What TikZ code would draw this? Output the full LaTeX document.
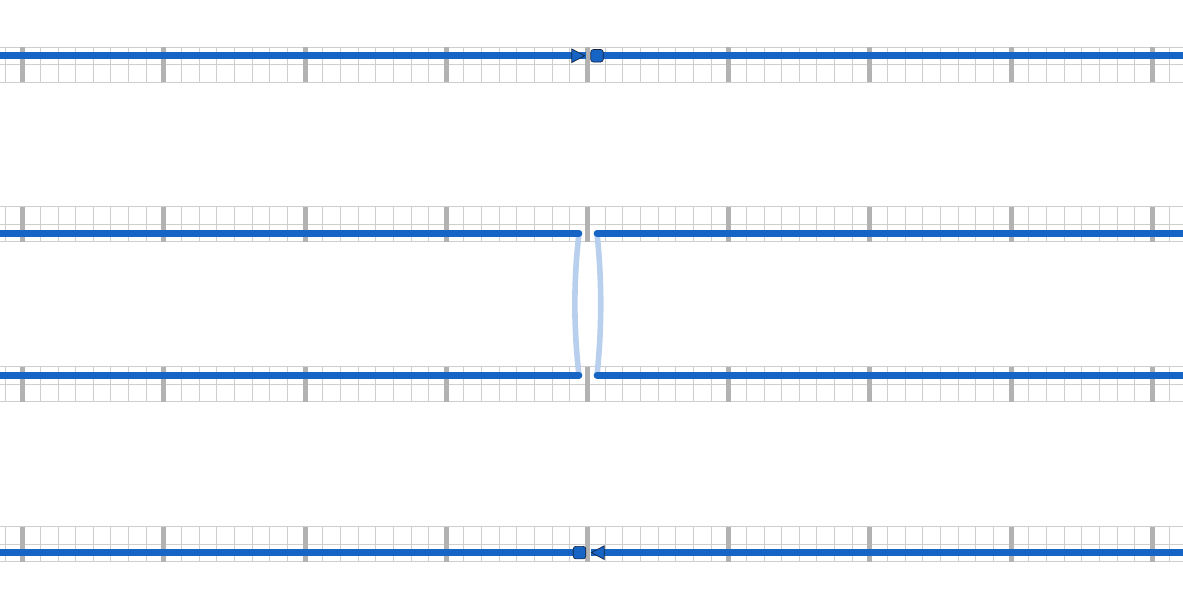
\documentclass[tikz,border=0pt]{standalone}
\usetikzlibrary{shapes.geometric}
\definecolor{trackblue}{RGB}{22,100,196}
\definecolor{linkblue}{RGB}{184,208,238}
\definecolor{gridthin}{RGB}{206,206,206}
\definecolor{gridthick}{RGB}{178,178,178}
\definecolor{markline}{RGB}{24,36,60}

\begin{document}
\begin{tikzpicture}[
    x=0.75pt, y=-0.75pt,
    cell/.style={gridthin, line width=0.75pt},
    major/.style={gridthick, line width=3.75pt},
    track/.style={trackblue, line width=5pt},
    trackend/.style={track, line cap=round},
    link/.style={linkblue, line width=4.2pt, line cap=round},
    signal/.style={isosceles triangle, isosceles triangle stretches, draw=markline,
      fill=trackblue, line width=0.5pt, inner sep=0pt, minimum width=10.2pt, minimum height=9.6pt},
    stopbox/.style={rectangle, rounded corners=2pt, draw=markline, fill=trackblue,
      line width=0.5pt, inner sep=0pt, minimum size=9.4pt}]
  \useasboundingbox (0,0) rectangle (1183,601);
  \clip (0,0) rectangle (1183,601);

  % grid strips
  \foreach \top in {47,206.8,366.6,526.6} {
    \foreach \k in {-1,...,66}
      \draw[cell] (22.7+\k*17.65,\top) -- ++(0,35);
    \foreach \dy in {0,17.5,35}
      \draw[cell] (0,\top+\dy) -- (1183,\top+\dy);
    \foreach \k in {0,...,8}
      \draw[major] (22.7+\k*141.2,\top) -- ++(0,35);
  }

  % track ends
  \coordinate (aW) at (0,55.75);
  \coordinate (aM) at (585.5,55.75);
  \coordinate (aN) at (597,55.75);
  \coordinate (aE) at (1183,55.75);
  \coordinate (bW) at (0,233.3);
  \coordinate (bL) at (579,233.3);
  \coordinate (bR) at (597,233.3);
  \coordinate (bE) at (1183,233.3);
  \coordinate (cW) at (0,375.3);
  \coordinate (cL) at (579,375.3);
  \coordinate (cR) at (597,375.3);
  \coordinate (cE) at (1183,375.3);
  \coordinate (dW) at (0,552.6);
  \coordinate (dM) at (579.5,552.6);
  \coordinate (dN) at (590.5,552.6);
  \coordinate (dE) at (1183,552.6);

  % crossover links
  \draw[link] (bL) .. controls (573.5,281) and (573.5,327) .. (cL);
  \draw[link] (bR) .. controls (602,281) and (602,327) .. (cR);

  % tracks
  \draw[track] (aW) -- (aM);
  \draw[track] (aN) -- (aE);
  \draw[trackend] (bW) -- (bL);
  \draw[trackend] (bR) -- (bE);
  \draw[trackend] (cW) -- (cL);
  \draw[trackend] (cR) -- (cE);
  \draw[track] (dW) -- (dM);
  \draw[track] (dN) -- (dE);

  % markers
  \node[signal, anchor=apex] (arrA) at (aM) {};
  \node[stopbox] (stopA) at (aN) {};
  \node[stopbox] (stopD) at (dM) {};
  \node[signal, shape border rotate=180, anchor=apex] (arrD) at (dN) {};
\end{tikzpicture}
\end{document}
